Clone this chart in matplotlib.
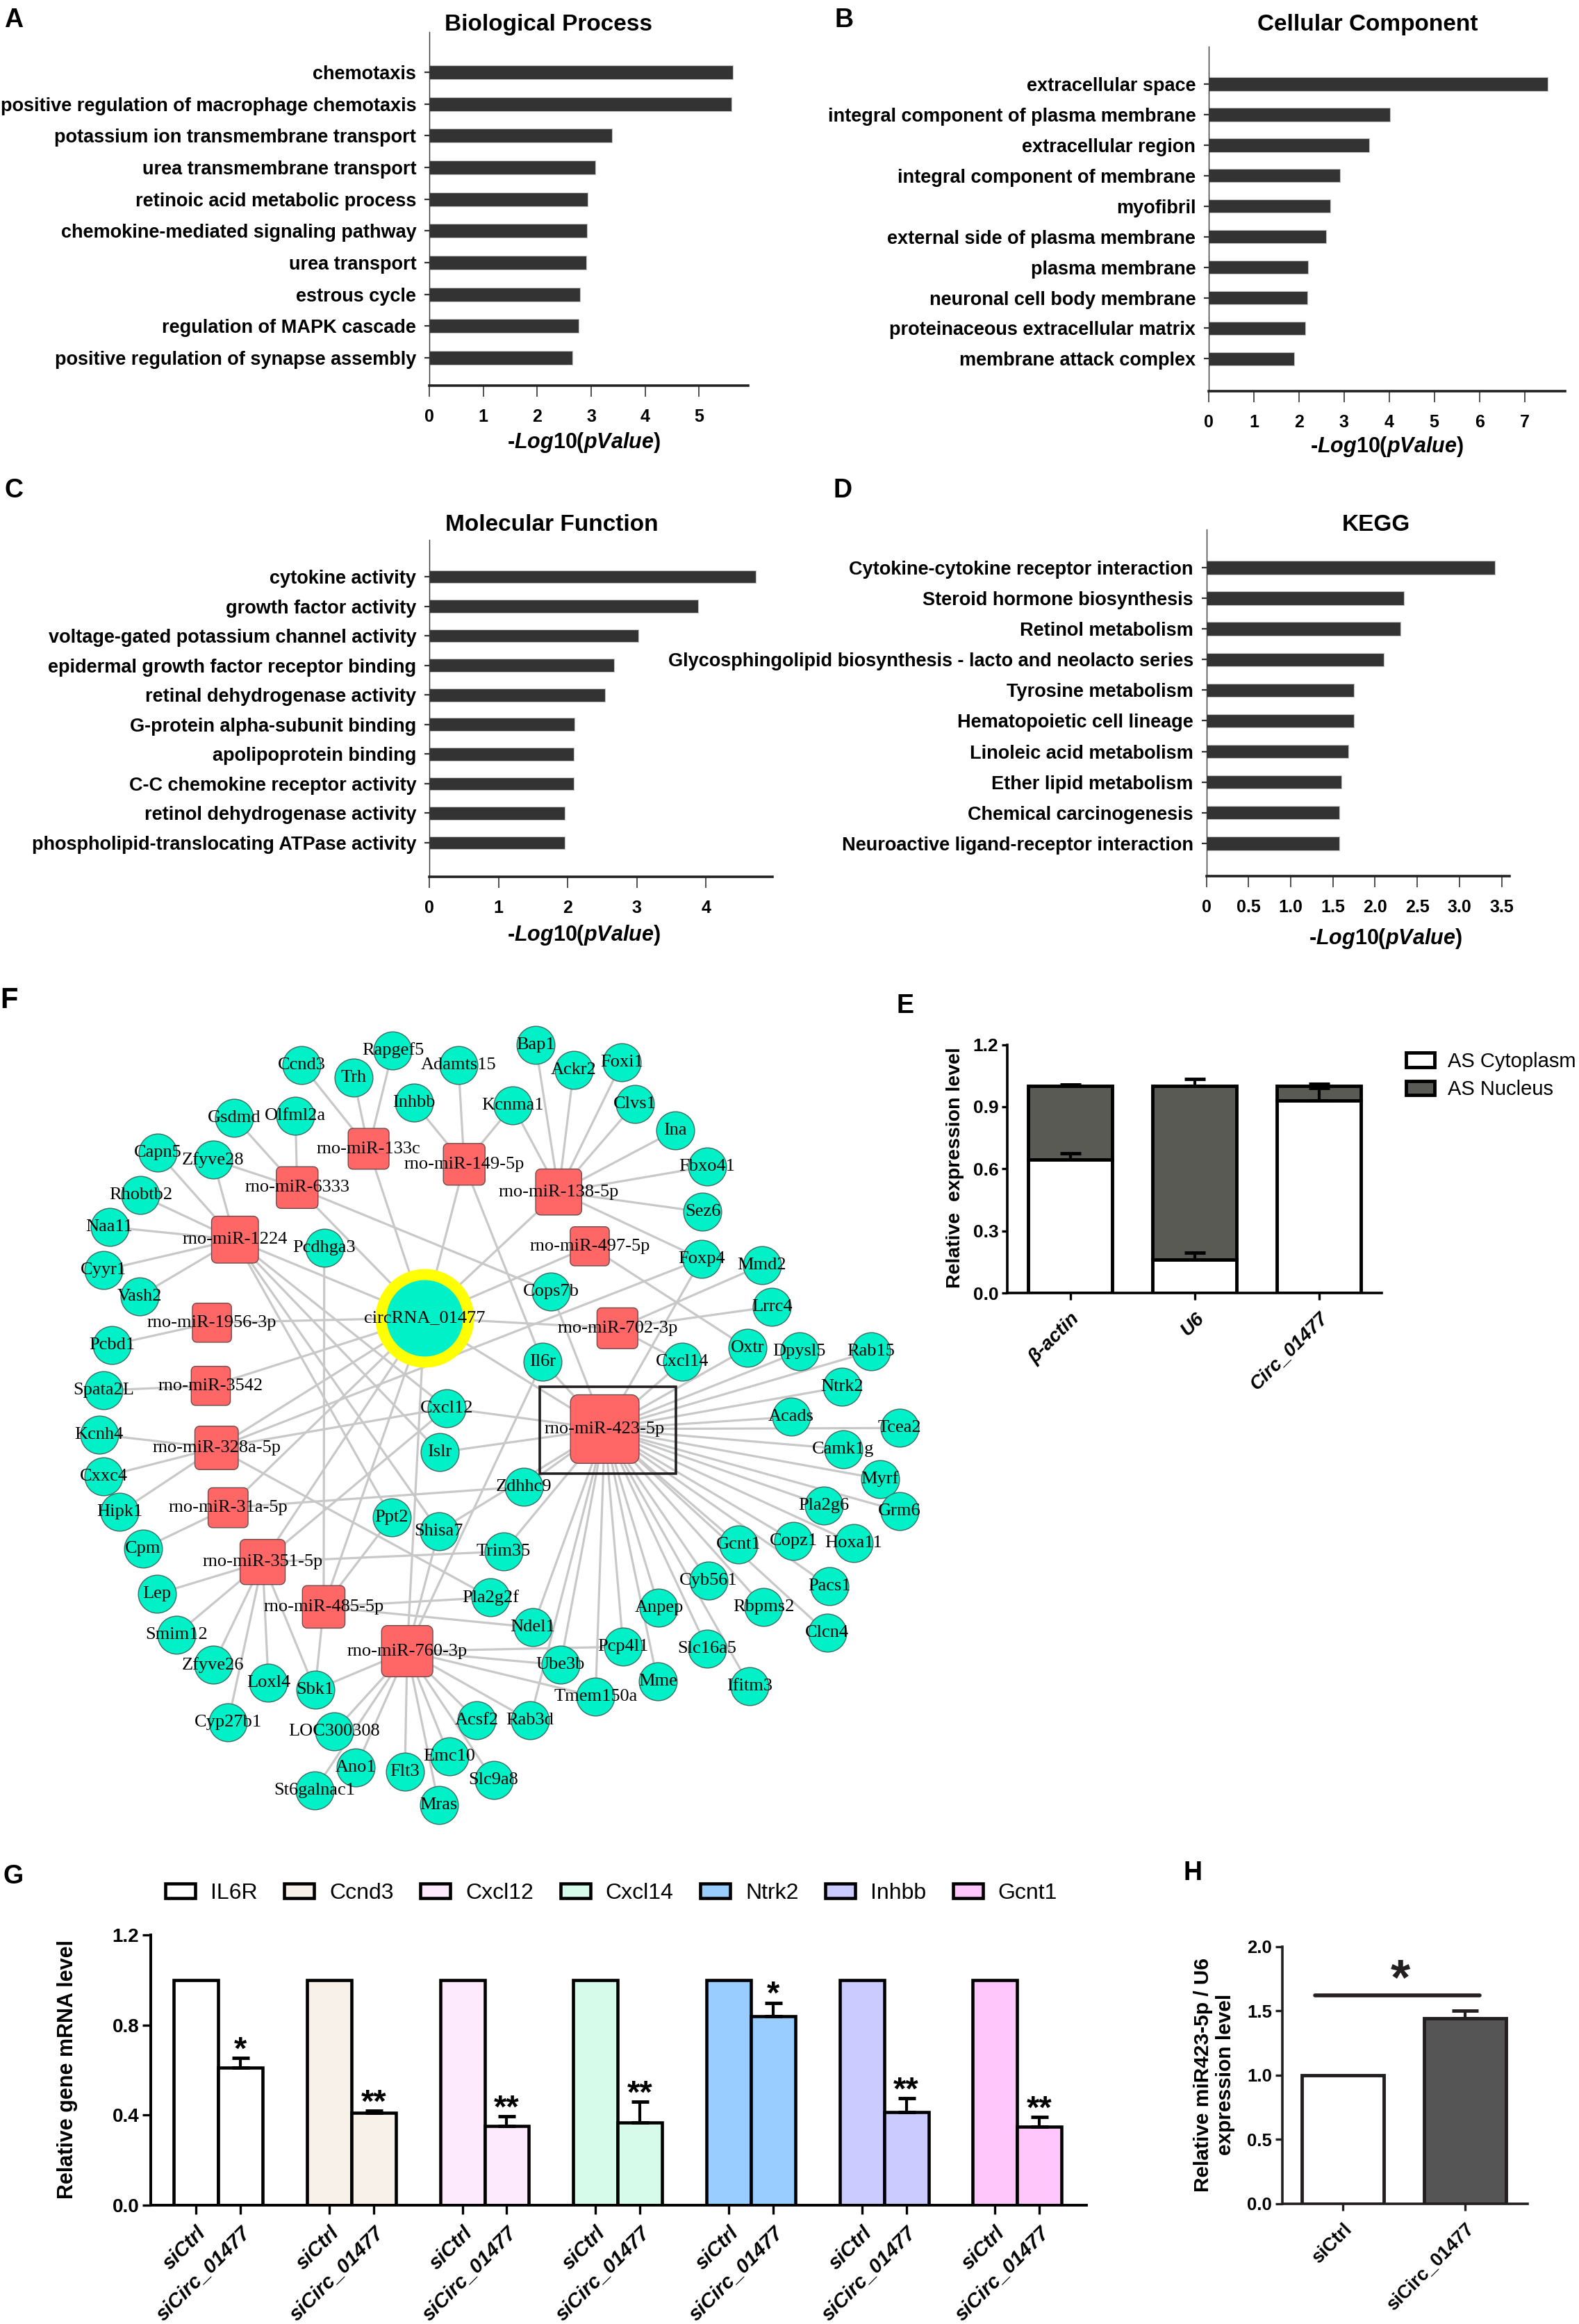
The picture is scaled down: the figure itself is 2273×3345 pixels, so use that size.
import numpy as np
import matplotlib
matplotlib.use('Agg')
import matplotlib.pyplot as plt
from matplotlib.path import Path
from matplotlib.patches import Patch, Rectangle

plt.rcParams['font.family'] = ['Liberation Sans', 'DejaVu Sans']
plt.rcParams['mathtext.fontset'] = 'custom'
plt.rcParams['mathtext.rm'] = 'Liberation Sans:bold'
plt.rcParams['mathtext.it'] = 'Liberation Sans:italic:bold'

# ---------------- data ----------------
bp_terms = ['chemotaxis', 'positive regulation of macrophage chemotaxis',
            'potassium ion transmembrane transport', 'urea transmembrane transport',
            'retinoic acid metabolic process', 'chemokine-mediated signaling pathway',
            'urea transport', 'estrous cycle', 'regulation of MAPK cascade',
            'positive regulation of synapse assembly']
bp_vals = [5.63, 5.60, 3.38, 3.08, 2.93, 2.92, 2.91, 2.80, 2.77, 2.65]

cc_terms = ['extracellular space', 'integral component of plasma membrane',
            'extracellular region', 'integral component of membrane', 'myofibril',
            'external side of plasma membrane', 'plasma membrane',
            'neuronal cell body membrane', 'proteinaceous extracellular matrix',
            'membrane attack complex']
cc_vals = [7.51, 4.02, 3.55, 2.91, 2.69, 2.61, 2.20, 2.18, 2.14, 1.90]

mf_terms = ['cytokine activity', 'growth factor activity',
            'voltage-gated potassium channel activity',
            'epidermal growth factor receptor binding', 'retinal dehydrogenase activity',
            'G-protein alpha-subunit binding', 'apolipoprotein binding',
            'C-C chemokine receptor activity', 'retinol dehydrogenase activity',
            'phospholipid-translocating ATPase activity']
mf_vals = [4.72, 3.89, 3.02, 2.67, 2.54, 2.10, 2.09, 2.09, 1.96, 1.96]

kegg_terms = ['Cytokine-cytokine receptor interaction', 'Steroid hormone biosynthesis',
              'Retinol metabolism',
              'Glycosphingolipid biosynthesis - lacto and neolacto series',
              'Tyrosine metabolism', 'Hematopoietic cell lineage',
              'Linoleic acid metabolism', 'Ether lipid metabolism',
              'Chemical carcinogenesis', 'Neuroactive ligand-receptor interaction']
kegg_vals = [3.42, 2.34, 2.30, 2.10, 1.75, 1.75, 1.68, 1.60, 1.58, 1.58]

# panel E
e_genes = ['β-actin', 'U6', 'Circ_01477']
e_cyto = [0.645, 0.16, 0.93]
e_nuc = [0.355, 0.84, 0.07]
e_cyto_err = [0.03, 0.035, 0.06]
e_nuc_err = [0.006, 0.035, 0.012]

# panel G
g_genes = ['IL6R', 'Ccnd3', 'Cxcl12', 'Cxcl14', 'Ntrk2', 'Inhbb', 'Gcnt1']
g_ctrl = [1.0, 1.0, 1.0, 1.0, 1.0, 1.0, 1.0]
g_si = [0.61, 0.41, 0.35, 0.368, 0.839, 0.414, 0.347]
g_si_err = [0.043, 0.009, 0.044, 0.09, 0.06, 0.06, 0.043]
g_stars = ['*', '**', '**', '**', '*', '**', '**']
g_colors = ['#ffffff', '#f7f1e9', '#fdeafc', '#d7fbea', '#99ccff', '#cccbff', '#fec6fa']

# panel H
h_groups = ['siCtrl', 'siCirc_01477']
h_vals = [1.0, 1.441]
h_err = [0.0, 0.06]

# panel F network
circ = 'circRNA_01477'
mir_targets = {
    'rno-miR-133c': ['Ccnd3', 'Trh', 'Rapgef5'],
    'rno-miR-149-5p': ['Adamts15', 'Kcnma1', 'Inhbb', 'Il6r'],
    'rno-miR-138-5p': ['Bap1', 'Ackr2', 'Foxi1', 'Clvs1', 'Ina', 'Fbxo41', 'Sez6',
                       'Foxp4', 'Kcnma1'],
    'rno-miR-6333': ['Gsdmd', 'Olfml2a', 'Zfyve28', 'Cops7b'],
    'rno-miR-1224': ['Capn5', 'Zfyve28', 'Rhobtb2', 'Naa11', 'Cyyr1', 'Vash2',
                     'Cxcl12', 'Islr', 'Shisa7', 'Ppt2'],
    'rno-miR-497-5p': ['Oxtr'],
    'rno-miR-1956-3p': ['Pcbd1'],
    'rno-miR-702-3p': ['Mmd2', 'Lrrc4', 'Cxcl14'],
    'rno-miR-3542': ['Spata2L'],
    'rno-miR-423-5p': ['Il6r', 'Cops7b', 'Foxp4', 'Cxcl14', 'Oxtr', 'Dpysl5', 'Rab15',
                       'Ntrk2', 'Acads', 'Tcea2', 'Camk1g', 'Myrf', 'Grm6', 'Pla2g6',
                       'Hoxa11', 'Copz1', 'Gcnt1', 'Pacs1', 'Rbpms2', 'Clcn4', 'Cyb561',
                       'Slc16a5', 'Ifitm3', 'Anpep', 'Mme', 'Pcp4l1', 'Tmem150a',
                       'Ube3b', 'Rab3d', 'Ndel1', 'Trim35', 'Zdhhc9', 'Islr', 'Cxcl12',
                       'Shisa7'],
    'rno-miR-328a-5p': ['Kcnh4', 'Cxxc4', 'Hipk1', 'Cxcl12', 'Pla2g2f', 'Foxp4'],
    'rno-miR-31a-5p': ['Cpm', 'Zdhhc9'],
    'rno-miR-351-5p': ['Lep', 'Smim12', 'Zfyve26', 'Loxl4', 'Cyp27b1', 'Sbk1',
                       'Trim35', 'Cxcl12'],
    'rno-miR-485-5p': ['Pcdhga3', 'Sbk1', 'Ppt2', 'Ndel1', 'Pla2g2f'],
    'rno-miR-760-3p': ['LOC300308', 'Ano1', 'St6galnac1', 'Flt3', 'Mras', 'Emc10',
                       'Slc9a8', 'Acsf2', 'Rab3d', 'Ube3b', 'Tmem150a', 'Pcp4l1',
                       'Sbk1', 'Shisa7', 'Il6r'],
}

layout = {
    'circRNA_01477': (737, 623),
    'rno-miR-133c': (640, 318), 'rno-miR-149-5p': (806, 346), 'rno-miR-6333': (516, 388),
    'rno-miR-138-5p': (970, 396), 'rno-miR-1224': (408, 482), 'rno-miR-497-5p': (1024, 494),
    'rno-miR-1956-3p': (368, 632), 'rno-miR-702-3p': (1072, 642), 'rno-miR-3542': (366, 746),
    'rno-miR-423-5p': (1050, 824), 'rno-miR-328a-5p': (376, 858), 'rno-miR-31a-5p': (396, 966),
    'rno-miR-351-5p': (456, 1064), 'rno-miR-485-5p': (562, 1145), 'rno-miR-760-3p': (707, 1225),
    'Ccnd3': (524, 167), 'Trh': (614, 190), 'Rapgef5': (682, 140), 'Adamts15': (796, 167),
    'Inhbb': (719, 235), 'Bap1': (930, 130), 'Ackr2': (996, 176), 'Foxi1': (1080, 162),
    'Kcnma1': (890, 240), 'Clvs1': (1102, 237), 'Ina': (1172, 285), 'Gsdmd': (407, 262),
    'Olfml2a': (513, 259), 'Capn5': (274, 325), 'Zfyve28': (370, 338), 'Fbxo41': (1228, 350),
    'Rhobtb2': (244, 402), 'Sez6': (1220, 432), 'Naa11': (190, 459), 'Pcdhga3': (563, 497),
    'Foxp4': (1218, 517), 'Mmd2': (1323, 528), 'Cyyr1': (180, 537), 'Vash2': (242, 584),
    'Cops7b': (957, 576), 'Lrrc4': (1340, 603), 'Pcbd1': (194, 672), 'Il6r': (942, 703),
    'Cxcl14': (1184, 703), 'Oxtr': (1298, 678), 'Dpysl5': (1388, 684), 'Rab15': (1512, 684),
    'Spata2L': (180, 754), 'Ntrk2': (1462, 748), 'Cxcl12': (776, 786), 'Acads': (1374, 802),
    'Tcea2': (1562, 822), 'Kcnh4': (172, 834), 'Islr': (763, 866), 'Camk1g': (1464, 860),
    'Cxxc4': (180, 910), 'Zdhhc9': (910, 928), 'Myrf': (1528, 914), 'Hipk1': (208, 974),
    'Grm6': (1562, 972), 'Pla2g6': (1430, 962), 'Ppt2': (680, 984), 'Shisa7': (762, 1008),
    'Cpm': (248, 1040), 'Trim35': (874, 1045), 'Gcnt1': (1282, 1032), 'Copz1': (1378, 1026),
    'Hoxa11': (1482, 1030), 'Cyb561': (1230, 1098), 'Lep': (272, 1122), 'Pla2g2f': (852, 1128),
    'Anpep': (1144, 1146), 'Pacs1': (1440, 1108), 'Rbpms2': (1326, 1145), 'Ndel1': (925, 1182),
    'Smim12': (306, 1195), 'Clcn4': (1436, 1192), 'Zfyve26': (370, 1250), 'Pcp4l1': (1082, 1217),
    'Slc16a5': (1228, 1220), 'Loxl4': (466, 1282), 'Sbk1': (547, 1295), 'Ube3b': (973, 1250),
    'Mme': (1142, 1280), 'Ifitm3': (1302, 1288), 'Tmem150a': (1034, 1307), 'Cyp27b1': (396, 1353),
    'Acsf2': (828, 1350), 'Rab3d': (920, 1350), 'LOC300308': (580, 1370), 'Emc10': (780, 1415),
    'Ano1': (618, 1435), 'Flt3': (703, 1443), 'Slc9a8': (857, 1458), 'St6galnac1': (546, 1476),
    'Mras': (762, 1503),
}

# ---------------- figure ----------------
W, H = 2273, 3345
fig = plt.figure(figsize=(W / 100, H / 100), dpi=100)


def px_ax(x0, y0, x1, y1):
    return fig.add_axes([x0 / W, 1 - y1 / H, (x1 - x0) / W, (y1 - y0) / H])


def px_text(x, y, s, **kw):
    return fig.text(x / W, 1 - y / H, s, **kw)


# GO / KEGG bar panels
go_panels = [
    (bp_terms, bp_vals, 'Biological Process', (618, 45.5, 1077, 555), 5.91, (9.876, -1.28),
     [0, 1, 2, 3, 4, 5], ['0', '1', '2', '3', '4', '5'], (790, 35.6), (840, 637.5)),
    (cc_terms, cc_vals, 'Cellular Component', (1740, 67, 2253, 563), 7.9, (10.06, -1.229),
     [0, 1, 2, 3, 4, 5, 6, 7], ['0', '1', '2', '3', '4', '5', '6', '7'], (1969, 35.7), (1996, 643)),
    (mf_terms, mf_vals, 'Molecular Function', (618, 777, 1112, 1262), 4.96, (10.15, -1.245),
     [0, 1, 2, 3, 4], ['0', '1', '2', '3', '4'], (794, 755.5), (840, 1346)),
    (kegg_terms, kegg_vals, 'KEGG', (1736.6, 762, 2172.6, 1261), 3.59, (10.07, -1.247),
     [0, 0.5, 1, 1.5, 2, 2.5, 3, 3.5], ['0', '0.5', '1.0', '1.5', '2.0', '2.5', '3.0', '3.5'],
     (1981, 755.5), (1994, 1350.5)),
]

for terms, vals, title, box, xmax, ylim, ticks, tlabels, txy, lxy in go_panels:
    ax = px_ax(*box)
    y = np.arange(len(terms))
    ax.barh(y, vals, height=0.44, color='#333333', edgecolor='#c4c4c4', linewidth=0.8)
    ax.set_xlim(0, xmax)
    ax.set_ylim(*ylim)
    ax.set_yticks(y)
    ax.set_yticklabels(terms, fontsize=19.5, fontweight='bold')
    ax.set_xticks(ticks)
    ax.set_xticklabels(tlabels, fontsize=18, fontweight='bold')
    for s in ['top', 'right']:
        ax.spines[s].set_visible(False)
    ax.spines['left'].set_linewidth(1.0)
    ax.spines['left'].set_color('#333333')
    ax.spines['bottom'].set_linewidth(2.6)
    ax.spines['bottom'].set_color('#222222')
    ax.tick_params(axis='y', length=5, width=1.6, pad=8.5, color='#333333')
    ax.tick_params(axis='x', length=11.5, width=1.2, pad=12, color='#333333')
    px_text(txy[0], txy[1], title, fontsize=24, fontweight='bold', ha='center', va='center')
    px_text(lxy[0], lxy[1], '-$Log$10($pValue$)', fontsize=22, fontweight='bold',
            ha='center', va='center')

# panel letters
for lab, x, y, fs in [('A', 6, 11, 27), ('B', 1202, 11, 27), ('C', 6, 688, 27), ('D', 1200, 688, 27),
                      ('F', 0, 1420, 30), ('E', 1290, 1430, 27), ('G', 5, 2683, 27),
                      ('H', 1703, 2678, 27)]:
    px_text(x, y, lab, fontsize=fs, fontweight='bold', ha='left', va='top')

# ---------------- panel F: network ----------------
axf = px_ax(0, 1400, 1300, 2650)
axf.set_xlim(0, 1568)
axf.set_ylim(1568, 0)
axf.axis('off')

mirnas = list(mir_targets.keys())
edges = [(circ, m) for m in mirnas]
for m in mirnas:
    for g in mir_targets[m]:
        edges.append((m, g))
for a, b in edges:
    (x1, y1), (x2, y2) = layout[a], layout[b]
    axf.plot([x1, x2], [y1, y2], color='#c8c8c8', lw=2.3, zorder=1, solid_capstyle='round')

genes = []
for m in mirnas:
    for g in mir_targets[m]:
        if g not in genes:
            genes.append(g)

gx = [layout[g][0] for g in genes]
gy = [layout[g][1] for g in genes]
axf.scatter(gx, gy, s=1550, c='#00f0c8', edgecolors='#3f6b60', linewidths=1.0,
            zorder=3, clip_on=False)

# rounded square marker
r = 0.22
pts = []
for cx, cy, a0 in [(1 - r, 1 - r, 0), (-1 + r, 1 - r, 90), (-1 + r, -1 + r, 180), (1 - r, -1 + r, 270)]:
    for t in np.radians(np.linspace(a0, a0 + 90, 8)):
        pts.append((cx + r * np.cos(t), cy + r * np.sin(t)))
rsquare = Path(np.array(pts + [pts[0]]), closed=True)

deg = [len(mir_targets[m]) for m in mirnas]
side_pt = [(55 + 1.25 * d) * 0.72 for d in deg]
mx = [layout[m][0] for m in mirnas]
my = [layout[m][1] for m in mirnas]
axf.scatter(mx, my, s=[sp ** 2 for sp in side_pt], marker=rsquare, c='#ff6666',
            edgecolors='#6b4b4b', linewidths=1.0, zorder=3)

cx_, cy_ = layout[circ]
axf.scatter([cx_], [cy_], s=8226, c='#00f0c8', edgecolors='#ffff00', linewidths=11.5, zorder=3)

axf.add_patch(Rectangle((937, 747), 236, 157, fill=False, lw=2.6, ec='#231f20', zorder=4))

for name in genes + mirnas + [circ]:
    x, y = layout[name]
    axf.text(x, y, name, ha='center', va='center', fontsize=19,
             family=['Liberation Serif', 'DejaVu Serif'], zorder=5, clip_on=False)

# ---------------- panel E ----------------
axe = px_ax(1450, 1503.5, 1989, 1861)
xe = np.arange(len(e_genes))
cyto_top = np.array(e_cyto)
axe.bar(xe, e_cyto, width=0.676, color='white', edgecolor='black', linewidth=3.5,
        label='AS Cytoplasm', zorder=2)
axe.bar(xe, e_nuc, bottom=e_cyto, width=0.676, color='#5a5a55', edgecolor='black',
        linewidth=3.5, label='AS Nucleus', zorder=2)
axe.errorbar(xe, e_cyto, yerr=[np.zeros(3), e_cyto_err], fmt='none', ecolor='black',
             elinewidth=3, capsize=10.8, capthick=3.5, zorder=3)
axe.errorbar(xe, cyto_top + np.array(e_nuc), yerr=[np.zeros(3), e_nuc_err], fmt='none',
             ecolor='black', elinewidth=3, capsize=10.8, capthick=3.5, zorder=3)
axe.set_xlim(-0.508, 2.503)
axe.set_ylim(0, 1.2)
axe.set_yticks([0, 0.3, 0.6, 0.9, 1.2])
axe.set_yticklabels(['0.0', '0.3', '0.6', '0.9', '1.2'], fontsize=19, fontweight='bold')
axe.set_xticks(xe)
axe.set_xticklabels(e_genes, rotation=45, ha='right', va='top', rotation_mode='anchor',
                    fontstyle='italic', fontweight='bold', fontsize=20)
for s in ['top', 'right']:
    axe.spines[s].set_visible(False)
for s in ['left', 'bottom']:
    axe.spines[s].set_linewidth(2.6)
axe.tick_params(axis='y', length=6, width=2.4, pad=3)
axe.tick_params(axis='x', length=7, width=2.4, pad=10)
px_text(1375, 1681, 'Relative  expression level', rotation=90, fontsize=20.5,
        fontweight='bold', ha='center', va='center')
axe.legend(loc='upper left', bbox_to_anchor=(2024 / W, 1 - 1514 / H),
           bbox_transform=fig.transFigure, frameon=False, fontsize=21, handlelength=1.4,
           handleheight=0.72, handletextpad=0.65, labelspacing=0.42, borderpad=0,
           borderaxespad=0)

# ---------------- panel G ----------------
axg = px_ax(217, 2785.2, 1564, 3173.7)
tick_pos, tick_lab = [], []
for i, gname in enumerate(g_genes):
    xc, xs = 3 * i, 3 * i + 1
    axg.bar([xc, xs], [g_ctrl[i], g_si[i]], width=1.0, color=g_colors[i], edgecolor='black',
            linewidth=3.3, label=gname, zorder=2)
    axg.errorbar([xs], [g_si[i]], yerr=[[0], [g_si_err[i]]], fmt='none', ecolor='black',
                 elinewidth=3, capsize=9, capthick=3.5, zorder=3)
    axg.text(xs, g_si[i] + g_si_err[i] - 0.004, g_stars[i], ha='center', va='baseline',
             fontsize=34, fontweight='bold')
    tick_pos += [xc, xs]
    tick_lab += ['siCtrl', 'siCirc_01477']
axg.set_xlim(-1.02, 20.06)
axg.set_ylim(0, 1.2)
axg.set_yticks([0, 0.4, 0.8, 1.2])
axg.set_yticklabels(['0.0', '0.4', '0.8', '1.2'], fontsize=20, fontweight='bold')
axg.set_xticks(tick_pos)
axg.set_xticklabels(tick_lab, rotation=45, ha='right', va='top', rotation_mode='anchor',
                    fontstyle='italic', fontweight='bold', fontsize=21)
for s in ['top', 'right']:
    axg.spines[s].set_visible(False)
for s in ['left', 'bottom']:
    axg.spines[s].set_linewidth(2.8)
axg.tick_params(axis='y', length=9, width=2.4, pad=3)
axg.tick_params(axis='x', length=9, width=2.4, pad=10)
px_text(97, 2978, 'Relative gene mRNA level', rotation=90, fontsize=22, fontweight='bold',
        ha='center', va='center')
axg.legend(loc='upper left', ncol=7, bbox_to_anchor=(238 / W, 1 - 2710 / H),
           bbox_transform=fig.transFigure, frameon=False, fontsize=23, handlelength=1.35,
           handleheight=0.63, handletextpad=0.69, columnspacing=1.2, borderpad=0,
           borderaxespad=0)

# ---------------- panel H ----------------
axh = px_ax(1845.5, 2801.9, 2198.7, 3171.9)
xh = np.arange(len(h_groups))
axh.bar(xh, h_vals, width=0.67, color=['white', '#555555'], edgecolor='#231f20',
        linewidth=3.5, zorder=2)
axh.errorbar(xh[1:], h_vals[1:], yerr=[[0], h_err[1:]], fmt='none', ecolor='#231f20',
             elinewidth=3, capsize=14, capthick=3.5, zorder=3)
axh.plot([-0.227, 1.12], [1.62, 1.62], color='#231f20', lw=4, solid_capstyle='round')
axh.text(0.474, 1.63, '*', ha='center', va='baseline', fontsize=52, fontweight='bold',
         color='#231f20')
axh.set_xlim(-0.497, 1.51)
axh.set_ylim(0, 2.0)
axh.set_yticks([0, 0.5, 1.0, 1.5, 2.0])
axh.set_yticklabels(['0.0', '0.5', '1.0', '1.5', '2.0'], fontsize=18.5, fontweight='bold')
axh.set_xticks(xh)
axh.set_xticklabels(h_groups, rotation=45, ha='right', va='top', rotation_mode='anchor',
                    fontweight='bold', fontsize=19.5)
for s in ['top', 'right']:
    axh.spines[s].set_visible(False)
for s in ['left', 'bottom']:
    axh.spines[s].set_linewidth(2.6)
    axh.spines[s].set_color('#231f20')
axh.tick_params(axis='both', length=7, width=2.4, color='#231f20')
axh.tick_params(axis='x', pad=10)
px_text(1748, 2986, 'Relative miR423-5p / U6\nexpression level', rotation=90, fontsize=21.5,
        fontweight='bold', ha='center', va='center', multialignment='center', linespacing=1.15)

fig.savefig('out.png', dpi=100)
